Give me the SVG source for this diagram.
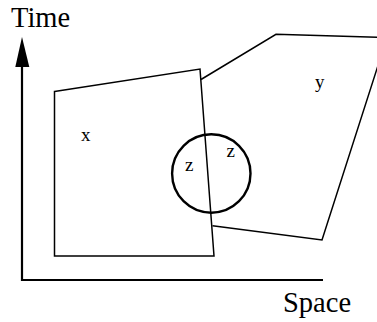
<svg xmlns="http://www.w3.org/2000/svg" width="377" height="322" viewBox="0 0 377 322">
<style>
.ln{fill:none;stroke:#000;stroke-width:1.5;stroke-linejoin:miter}
.ax{fill:none;stroke:#000;stroke-width:2.2}
.lbl{font-family:"Liberation Serif","Times New Roman",serif;fill:#000}
</style>
<rect width="377" height="322" fill="#fff"/>
<g id="axes">
<polygon points="22,37 15.3,67 29.3,67" fill="#000"/>
<polyline class="ax" points="22,66 22,280 323,280"/>
<text class="lbl" x="11" y="27" font-size="28.5">Time</text>
<text class="lbl" x="283" y="312" font-size="28.5">Space</text>
</g>
<g id="x">
<polygon class="ln" points="54.5,91.5 200,69 214,256 54.5,256"/>
<text class="lbl" x="81" y="141" font-size="19">x</text>
</g>
<g id="y">
<polyline class="ln" points="201,79.5 276,34.3 387,37.5 322,240 212.5,225.7"/>
<text class="lbl" x="315" y="88" font-size="19">y</text>
</g>
<g id="z">
<circle cx="211.3" cy="173.5" r="39.2" fill="none" stroke="#000" stroke-width="2.4"/>
<text class="lbl" x="185" y="171" font-size="19">z</text>
<text class="lbl" x="226.5" y="156.7" font-size="19">z</text>
</g>
</svg>
